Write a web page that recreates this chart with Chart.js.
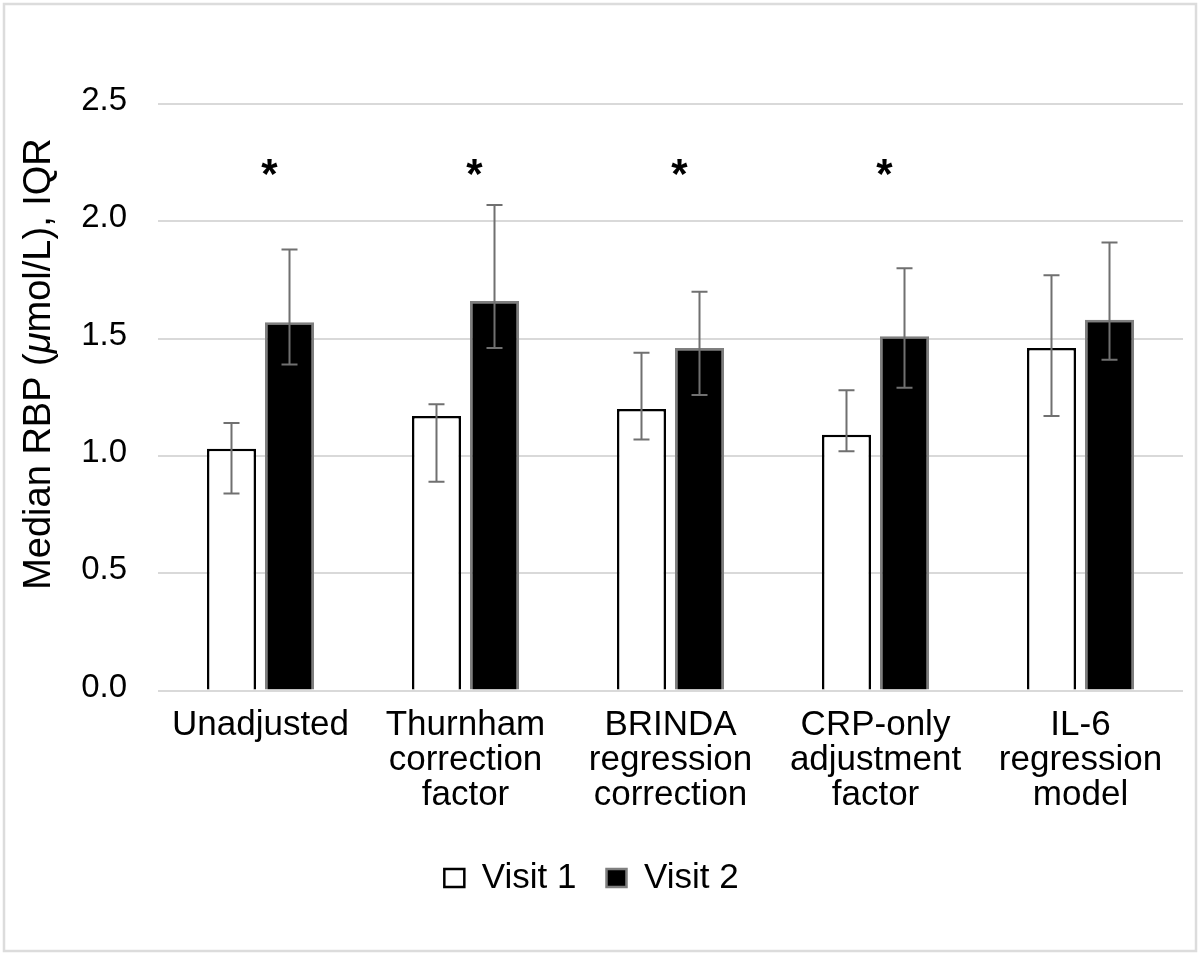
<!DOCTYPE html>
<html><head><meta charset="utf-8">
<script src="https://cdn.jsdelivr.net/npm/chart.js@4.4.1/dist/chart.umd.min.js"></script>
<style>html,body{margin:0;padding:0;background:#fff}canvas{display:block}</style>
</head><body>
<canvas id="c" width="1200" height="955"></canvas>
<script>
// ---- data ----
const categories = ['Unadjusted', ['Thurnham','correction','factor'], ['BRINDA','regression','correction'], ['CRP-only','adjustment','factor'], ['IL-6','regression','model']];
const seriesNames = ['Visit 1', 'Visit 2'];
const visit1 = [1.03, 1.17, 1.20, 1.09, 1.46];
const visit1Lo = [0.84, 0.89, 1.07, 1.02, 1.17];
const visit1Hi = [1.14, 1.22, 1.44, 1.28, 1.77];
const visit2 = [1.57, 1.66, 1.46, 1.51, 1.58];
const visit2Lo = [1.39, 1.46, 1.26, 1.29, 1.41];
const visit2Hi = [1.88, 2.07, 1.70, 1.80, 1.91];
const significance = ['*', '*', '*', '*', ''];
const yTicks = [0, 0.5, 1.0, 1.5, 2.0, 2.5];
const yTitleParts = [['Median RBP (', false], ['\u03bc', true], ['mol/L), IQR', false]];
const SIG_LEVEL = 2.14;

const FONT = "'Liberation Sans', Arial, Helvetica, sans-serif";

const frame = {
  id: 'frame',
  beforeDraw(chart) {
    const ctx = chart.ctx;
    ctx.save();
    ctx.fillStyle = '#fff';
    ctx.fillRect(0, 0, chart.width, chart.height);
    ctx.strokeStyle = '#dcdcdc';
    ctx.lineWidth = 2.5;
    ctx.strokeRect(4, 4, chart.width - 8, chart.height - 8);
    ctx.restore();
  }
};

const errorBars = {
  id: 'errorBars',
  afterDatasetsDraw(chart) {
    const ctx = chart.ctx;
    const ys = chart.scales.y;
    ctx.save();
    ctx.strokeStyle = '#707070';
    ctx.lineWidth = 2;
    chart.data.datasets.forEach((ds, i) => {
      const meta = chart.getDatasetMeta(i);
      meta.data.forEach((el, j) => {
        const x = el.x;
        const y1 = ys.getPixelForValue(ds.errLo[j]);
        const y2 = ys.getPixelForValue(ds.errHi[j]);
        ctx.beginPath();
        ctx.moveTo(x, y1); ctx.lineTo(x, y2);
        ctx.moveTo(x - 8, y1); ctx.lineTo(x + 8, y1);
        ctx.moveTo(x - 8, y2); ctx.lineTo(x + 8, y2);
        ctx.stroke();
      });
    });
    ctx.restore();
  }
};

const sigMarks = {
  id: 'sigMarks',
  afterDatasetsDraw(chart) {
    const ctx = chart.ctx;
    const xs = chart.scales.x, ys = chart.scales.y;
    ctx.save();
    ctx.fillStyle = '#000';
    ctx.font = 'bold 42px ' + FONT;
    ctx.textAlign = 'center';
    ctx.textBaseline = 'alphabetic';
    significance.forEach((s, i) => {
      if (!s) return;
      ctx.fillText(s, xs.getPixelForValue(i) + 9, ys.getPixelForValue(SIG_LEVEL));
    });
    ctx.restore();
  }
};

const yTitle = {
  id: 'yTitle',
  afterDraw(chart) {
    const ctx = chart.ctx;
    ctx.save();
    const size = 38;
    const fonts = yTitleParts.map(p => (p[1] ? 'italic ' : '') + size + 'px ' + FONT);
    let total = 0;
    const widths = yTitleParts.map((p, k) => { ctx.font = fonts[k]; const w = ctx.measureText(p[0]).width; total += w; return w; });
    ctx.translate(50, 364);
    ctx.rotate(-Math.PI / 2);
    ctx.fillStyle = '#000';
    ctx.textBaseline = 'alphabetic';
    ctx.textAlign = 'left';
    let x = -total / 2;
    yTitleParts.forEach((p, k) => { ctx.font = fonts[k]; ctx.fillText(p[0], x, 0); x += widths[k]; });
    ctx.restore();
  }
};

new Chart(document.getElementById('c'), {
  type: 'bar',
  data: {
    labels: categories,
    datasets: [
      { label: seriesNames[0], data: visit1, errLo: visit1Lo, errHi: visit1Hi,
        backgroundColor: '#ffffff', borderColor: '#000000', borderWidth: 2.5 },
      { label: seriesNames[1], data: visit2, errLo: visit2Lo, errHi: visit2Hi,
        backgroundColor: '#000000', borderColor: '#7f7f7f', borderWidth: 2.5 }
    ]
  },
  options: {
    responsive: false,
    animation: false,
    devicePixelRatio: 1,
    categoryPercentage: 0.566,
    barPercentage: 0.845,
    layout: { padding: { left: 0, right: 17, top: 104, bottom: 49.5 } },
    plugins: {
      tooltip: { enabled: false },
      legend: {
        position: 'bottom',
        labels: {
          color: '#000',
          font: { family: FONT, size: 35 },
          boxWidth: 20, boxHeight: 18,
          padding: 30
        }
      }
    },
    scales: {
      x: {
        grid: { display: false },
        border: { display: false },
        ticks: {
          color: '#000', padding: 9, maxRotation: 0, autoSkip: false,
          font: { family: FONT, size: 35, lineHeight: 1.0 }
        },
        afterFit(s) { s.height = 140; }
      },
      y: {
        min: 0, max: 2.5,
        afterBuildTicks(s) { s.ticks = yTicks.map(v => ({ value: v })); },
        grid: { color: '#d9d9d9', lineWidth: 2, drawTicks: false },
        border: { display: false },
        ticks: {
          color: '#000', padding: 31, labelOffset: -3,
          font: { family: FONT, size: 33 },
          callback: v => Number(v).toFixed(1)
        },
        afterFit(s) { s.width = 158; }
      }
    }
  },
  plugins: [frame, errorBars, sigMarks, yTitle]
});
</script>
</body></html>
